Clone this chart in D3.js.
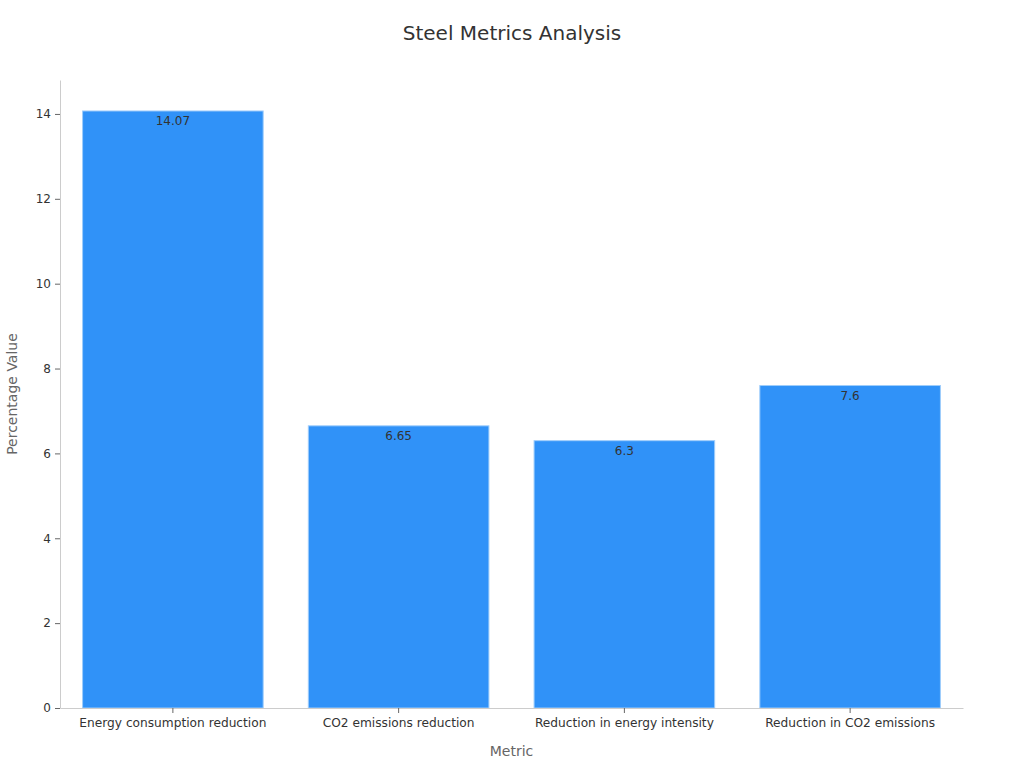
<!DOCTYPE html>
<html>
<head>
<meta charset="utf-8">
<script src="https://cdn.jsdelivr.net/npm/d3@7"></script>
<style>
  body { margin: 0; background: #fff; }
  text { font-family: "DejaVu Sans", sans-serif; }
</style>
</head>
<body>
<svg id="chart" width="1024" height="768"></svg>
<script>
// data
const metrics = ["Energy consumption reduction", "CO2 emissions reduction", "Reduction in energy intensity", "Reduction in CO2 emissions"];
const values = [14.07, 6.65, 6.3, 7.6];
const yTicks = [0, 2, 4, 6, 8, 10, 12, 14];

const svg = d3.select("#chart");
const plotLeft = 60, plotRight = 963, plotTop = 80, plotBottom = 708;

const x = d3.scaleBand()
    .domain(metrics)
    .range([plotLeft, plotRight])
    .paddingInner(0.2)
    .paddingOuter(0.1);

const y = d3.scaleLinear()
    .domain([0, 14.8])
    .range([plotBottom, plotTop]);

// title
svg.append("text")
    .attr("x", 512).attr("y", 40)
    .attr("text-anchor", "middle")
    .attr("font-size", 20)
    .attr("fill", "#333")
    .text("Steel Metrics Analysis");

// bars
svg.selectAll("rect.bar")
    .data(values)
    .enter().append("rect")
    .attr("class", "bar")
    .attr("x", (d, i) => x(metrics[i]))
    .attr("y", d => y(d))
    .attr("width", x.bandwidth())
    .attr("height", d => plotBottom - y(d))
    .attr("fill", "#3092f8")
    .attr("stroke", "#9fcdfb")
    .attr("stroke-width", 1);

// value labels
svg.selectAll("text.val")
    .data(values)
    .enter().append("text")
    .attr("class", "val")
    .attr("x", (d, i) => x(metrics[i]) + x.bandwidth() / 2)
    .attr("y", d => y(d) + 14)
    .attr("text-anchor", "middle")
    .attr("font-size", 12)
    .attr("fill", "#333")
    .text(d => d);

// y axis
const yAxis = svg.append("g")
    .attr("transform", `translate(${plotLeft},0)`)
    .call(d3.axisLeft(y).tickValues(yTicks).tickSize(5).tickPadding(4).tickSizeOuter(0));
yAxis.select(".domain").attr("stroke", "#ccc");
yAxis.selectAll(".tick line").attr("stroke", "#666");
yAxis.selectAll(".tick text").attr("font-size", 12).attr("fill", "#333")
    .attr("font-family", "DejaVu Sans, sans-serif");

// x axis
const xAxis = svg.append("g")
    .attr("transform", `translate(0,${plotBottom})`)
    .call(d3.axisBottom(x).tickSize(5).tickPadding(5).tickSizeOuter(0));
xAxis.select(".domain").attr("stroke", "#ccc");
xAxis.selectAll(".tick line").attr("stroke", "#666");
xAxis.selectAll(".tick text").attr("font-size", 12.2).attr("fill", "#333")
    .attr("font-family", "DejaVu Sans, sans-serif");

// axis titles
svg.append("text")
    .attr("x", (plotLeft + plotRight) / 2).attr("y", 756)
    .attr("text-anchor", "middle")
    .attr("font-size", 14)
    .attr("fill", "#666")
    .text("Metric");

svg.append("text")
    .attr("transform", `translate(17,${(plotTop + plotBottom) / 2}) rotate(-90)`)
    .attr("text-anchor", "middle")
    .attr("font-size", 14)
    .attr("fill", "#666")
    .text("Percentage Value");
</script>
</body>
</html>
